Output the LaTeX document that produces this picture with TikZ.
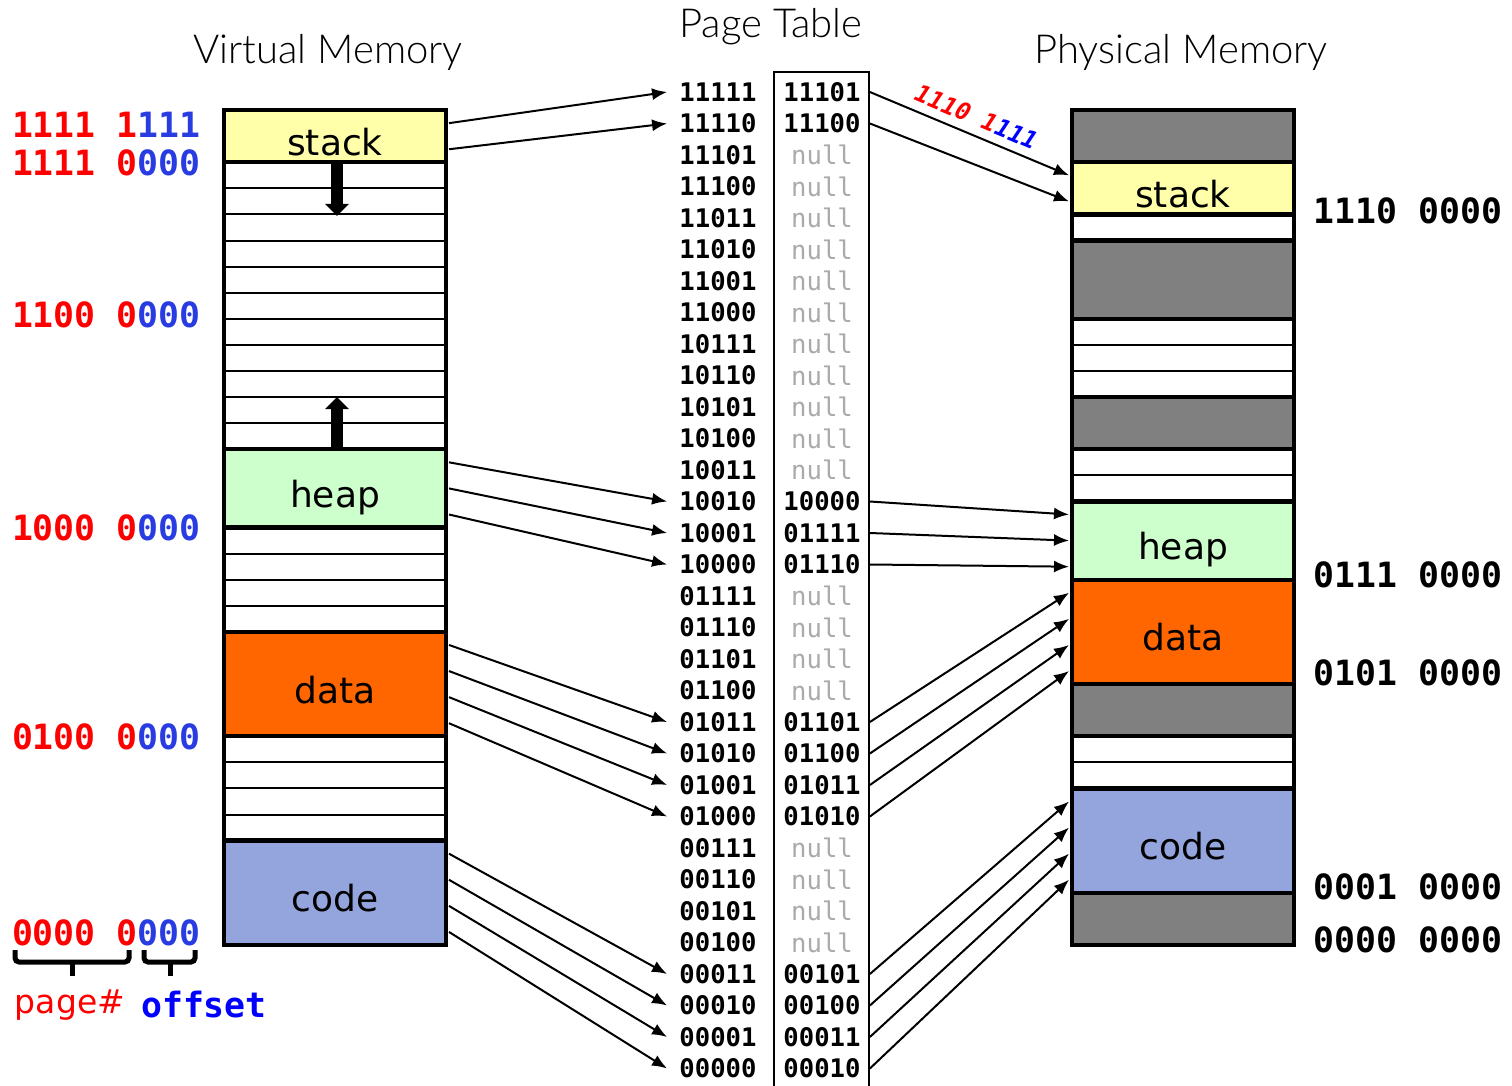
\documentclass[tikz,border=0pt]{standalone}
\usepackage{fontspec}
\setmainfont{DejaVu Sans}
\setmonofont{DejaVu Sans Mono}
\newfontfamily\titlefont{Lato Light}
\usetikzlibrary{arrows.meta}

\definecolor{stackc}{RGB}{255,255,170}
\definecolor{heapc}{RGB}{204,255,204}
\definecolor{datac}{RGB}{255,102,0}
\definecolor{codec}{RGB}{148,165,222}
\definecolor{unused}{RGB}{128,128,128}
\definecolor{pgred}{RGB}{255,0,0}
\definecolor{offblue}{RGB}{40,60,225}
\definecolor{nullc}{RGB}{170,170,170}

% row height in pixels and in pt
\def\rh{26.09}
\def\rowpt{13.045pt}

\tikzset{
  memtitle/.style={font=\titlefont\fontsize{20}{24}\selectfont},
  addr/.style={font=\ttfamily\bfseries\fontsize{17.4}{20}\selectfont, inner sep=0pt},
  ptnum/.style={font=\ttfamily\bfseries\fontsize{12.8}{15}\selectfont, inner ysep=0pt, inner xsep=6pt},
  ptframe/.style={font=\ttfamily\bfseries\fontsize{12.8}{15}\selectfont, inner sep=0pt, minimum width=47.5pt},
  ptnull/.style={ptframe, font=\ttfamily\fontsize{12.8}{15}\selectfont, text=nullc},
  memseg/.style={draw, line width=2.2pt, minimum width=111pt, inner sep=0pt,
    text height=19pt, text depth=0pt, font=\fontsize{18}{20}\selectfont},
  map/.style={-{Latex[length=7.5pt,width=6pt]}, line width=1pt},
  growarrow/.style={-{Triangle[length=6pt,width=11.5pt]}, line width=6pt},
  brk/.style={line width=2.5pt, rounded corners=2pt},
}

\begin{document}
\begin{tikzpicture}[x=0.5pt,y=-0.5pt]
\useasboundingbox (0,0) rectangle (1512,1086);

% titles
\node[memtitle] (vtitle) at (328,52) {Virtual Memory};
\node[memtitle] (pttitle) at (771,27) {Page Table};
\node[memtitle] (mtitle) at (1181,52) {Physical Memory};

% virtual memory
\foreach \k in {1,...,31}
  \draw[line width=1pt] (224,{945-\k*\rh}) -- (446,{945-\k*\rh});
\foreach \nm/\a/\b/\col in {stack/30/32/stackc, heap/16/19/heapc, data/8/12/datac, code/0/4/codec}
  \node[memseg, fill=\col, minimum height={(\b-\a)*\rowpt}] (v\nm) at (335,{945-(\a+\b)/2*\rh}) {\nm};
\draw[line width=2.2pt] (224,{945-32*\rh}) rectangle (446,945);
\coordinate (sgrow) at (337,216);
\coordinate (hgrow) at (337,397);
\draw[growarrow] ([xshift=1pt]vstack.south) -- (sgrow);
\draw[growarrow] ([xshift=1pt]vheap.north) -- (hgrow);
\foreach \k in {0,...,31}
  \coordinate (v\k) at (449,{945-(\k+0.5)*\rh});

% physical memory
\foreach \k in {1,...,31}
  \draw[line width=1pt] (1072,{945-\k*\rh}) -- (1294,{945-\k*\rh});
\foreach \nm/\a/\b/\col/\txt in {free1/30/32/unused/, stack/28/30/stackc/stack, free2/24/27/unused/,
    free3/19/21/unused/, heap/14/17/heapc/heap, data/10/14/datac/data, free4/8/10/unused/,
    code/2/6/codec/code, free5/0/2/unused/}
  \node[memseg, fill=\col, minimum height={(\b-\a)*\rowpt}] (p\nm) at (1183,{945-(\a+\b)/2*\rh}) {\txt};
\draw[line width=2.2pt] (1072,{945-32*\rh}) rectangle (1294,945);
\foreach \k in {0,...,31}
  \coordinate (p\k) at (1069,{945-(\k+0.5)*\rh});

% page table
\draw[line width=0.9pt] (774,1090) -- (774,72) -- (869,72) -- (869,1090);
\foreach \k/\bits in {31/11111, 30/11110, 29/11101, 28/11100, 27/11011, 26/11010, 25/11001, 24/11000,
    23/10111, 22/10110, 21/10101, 20/10100, 19/10011, 18/10010, 17/10001, 16/10000,
    15/01111, 14/01110, 13/01101, 12/01100, 11/01011, 10/01010, 9/01001, 8/01000,
    7/00111, 6/00110, 5/00101, 4/00100, 3/00011, 2/00010, 1/00001, 0/00000}
  \node[ptnum] (vp\k) at (718,{92+(31-\k)*31.5}) {\bits};
\foreach \k in {29,28,27,26,25,24,23,22,21,20,19,15,14,13,12,7,6,5,4}
  \node[ptnull] (pf\k) at (822,{92+(31-\k)*31.5}) {null};
\foreach \k/\f in {31/11101, 30/11100, 18/10000, 17/01111, 16/01110, 11/01101, 10/01100,
    9/01011, 8/01010, 3/00101, 2/00100, 1/00011, 0/00010}
  \node[ptframe] (pf\k) at (822,{92+(31-\k)*31.5}) {\f};

% virtual page -> page table entry
\foreach \k in {31,30,18,17,16,11,10,9,8,3,2,1,0}
  \draw[map] (v\k) -- (vp\k.west);

% page table entry -> physical frame
\draw[map] (pf31.east) -- node[sloped, above=3pt, pos=0.5, inner sep=1pt,
    font=\ttfamily\bfseries\itshape\fontsize{12}{13}\selectfont] (ex)
    {\textcolor{pgred}{1110 1}\textcolor{blue}{111}} (p29);
\foreach \k/\m in {30/28, 18/16, 17/15, 16/14, 11/13, 10/12, 9/11, 8/10, 3/5, 2/4, 1/3, 0/2}
  \draw[map] (pf\k.east) -- (p\m);

% virtual addresses
\foreach \y/\pg/\off in {125/1111 1/111, 163/1111 0/000, 315/1100 0/000, 528/1000 0/000, 737/0100 0/000, 933/0000 0/000}
  \node[addr, anchor=east] (va\y) at (201,\y) {\textcolor{pgred}{\pg}\textcolor{offblue}{\off}};

% physical addresses
\foreach \y/\txt in {211/1110 0000, 575/0111 0000, 673/0101 0000, 887/0001 0000, 940/0000 0000}
  \node[addr, anchor=west] (pa\y) at (1313,\y) {\txt};

% page# / offset split
\draw[brk] (15,950) -- (15,962) -- (129,962) -- (129,950);
\draw[brk] (72,962) -- (72,976);
\draw[brk] (144,950) -- (144,962) -- (195,962) -- (195,950);
\draw[brk] (170,962) -- (170,976);
\node[font=\fontsize{16.5}{18}\selectfont, text=pgred] (pglbl) at (70,1005) {page\#};
\node[addr, text=blue] (offlbl) at (204,1005) {offset};
\end{tikzpicture}
\end{document}
